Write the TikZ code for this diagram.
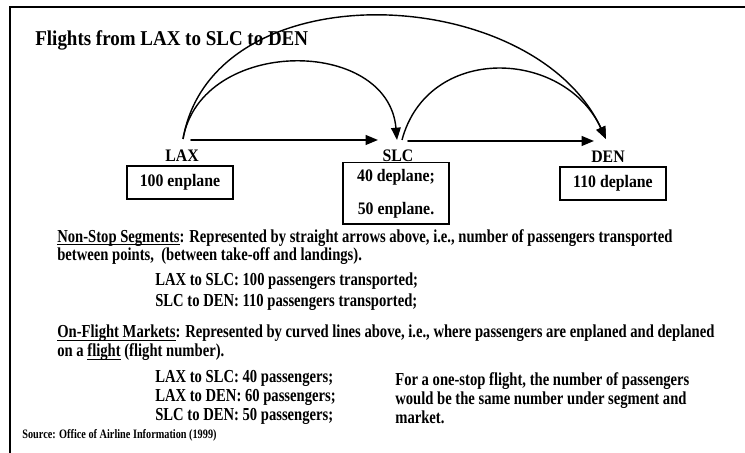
\documentclass[tikz,border=0pt]{standalone}
\usepackage{amsmath, tikz, tkz-euclide}
\usepackage{fontspec}
\setmainfont{Liberation Serif}[FakeStretch=0.9]
\newfontfamily\narrowfont{Liberation Serif}[FakeStretch=0.8]
\usetikzlibrary{arrows.meta}

\newcommand{\ulbar}[1]{\setbox0\hbox{#1}\rlap{\rule[-1.4pt]{\wd0}{0.5pt}}\box0\relax}

\tikzset{
  body/.style={anchor=base west, inner sep=0pt, font=\narrowfont\fontsize{10.4}{12}\selectfont\bfseries},
  city/.style={inner sep=0pt, font=\fontsize{10}{12}\selectfont\bfseries},
  tally/.style={draw, line width=0.6pt, minimum width=21.2mm, minimum height=6.6mm,
    align=center, font=\fontsize{10}{19}\selectfont\bfseries}
}

\begin{document}
\begin{tikzpicture}[x=0.2mm, y=0.2mm, >={Triangle[length=7pt, width=5.5pt]}]
    \useasboundingbox (0,0) rectangle (745,453);
    \draw[line width=0.8pt] (745,446) -- (10,446) -- (10,0);
    \node[anchor=base west, inner sep=0pt, font=\fontsize{12}{14}\selectfont\bfseries]
      (title) at (35,407) {Flights from LAX to SLC to DEN};
    \tkzDefPoints{183/314/L, 397/313/S, 402/313/T, 606/314/D}
    \tkzDefPoints{191/313/a, 378/313/b, 408/312/c, 594/312/d}
    \tkzDrawSegments[->, line width=1.1pt](a,b c,d)
    \draw[->, line width=0.8pt] (L) to[out=80, in=95, looseness=1.24] (S);
    \draw[->, line width=0.8pt] (T) to[out=75, in=115, looseness=1.25] (D);
    \draw[->, line width=0.8pt] (L) to[out=80, in=115, looseness=1.05] (D);
    \node[city] (lax) at (182,297) {LAX};
    \node[city] (slc) at (398,297) {SLC};
    \node[city] (den) at (608,296) {DEN};
    \node[tally] (laxbox) at (180,270.5) {100 enplane};
    \node[tally, minimum height=12.2mm] (slcbox) at (396,259.5) {40 deplane;\\50 enplane.};
    \node[tally] (denbox) at (613,269.5) {110 deplane};
    \node[body] (seg1) at (57,210.5) {\ulbar{Non-Stop Segments}: Represented by straight arrows above, i.e., number of passengers transported};
    \node[body] (seg2) at (57,192) {between points,\ \ (between take-off and landings).};
    \node[body] (seg3) at (155,167) {LAX to SLC: 100 passengers transported;};
    \node[body] (seg4) at (155,146) {SLC to DEN: 110 passengers transported;};
    \node[body] (mkt1) at (57,115) {\ulbar{On-Flight Markets}: Represented by curved lines above, i.e., where passengers are enplaned and deplaned};
    \node[body] (mkt2) at (57,96) {on a \ulbar{flight} (flight number).};
    \node[body] (mkt3) at (155,70.5) {LAX to SLC: 40 passengers;};
    \node[body] (mkt4) at (155,51.5) {LAX to DEN: 60 passengers;};
    \node[body] (mkt5) at (155,32) {SLC to DEN: 50 passengers;};
    \node[body] (note1) at (395,67.5) {For a one-stop flight, the number of passengers};
    \node[body] (note2) at (395,48.5) {would be the same number under segment and};
    \node[body] (note3) at (395,29) {market.};
    \node[body, font=\narrowfont\fontsize{7.3}{9}\selectfont\bfseries] (src) at (22,14.5) {Source: Office of Airline Information (1999)};
\end{tikzpicture}
\end{document}
